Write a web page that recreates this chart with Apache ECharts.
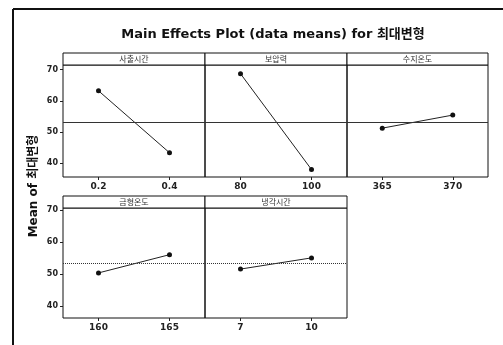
<!DOCTYPE html>
<html>
<head>
<meta charset="utf-8">
<script src="https://cdn.jsdelivr.net/npm/echarts@6/dist/echarts.min.js"></script>
<style>
  html, body { margin: 0; padding: 0; background: #fff; }
  #chart { width: 503px; height: 345px; }
</style>
</head>
<body>
<div id="chart"></div>
<script>
// Factors, their two levels and the mean response at each level
const factorNames = ['사출시간', '보압력', '수지온도', '금형온도', '냉각시간'];
const levelLabels = [['0.2', '0.4'], ['80', '100'], ['365', '370'], ['160', '165'], ['7', '10']];
const levelMeans = [[63.2, 43.3], [68.7, 37.9], [51.2, 55.4], [50.3, 56.0], [51.5, 55.0]];
const grandMean = 53.2;
const yTickValues = [40, 50, 60, 70];

const chartTitle = 'Main Effects Plot (data means) for 최대변형';
const yAxisTitle = 'Mean of 최대변형';

// Panel layout: [left, top, width, height] of each plotting area
const panels = [
  [63, 65, 142, 112], [205, 65, 142, 112], [347, 65, 141, 112],
  [63, 208, 142, 110], [205, 208, 142, 110]
];
const rowRange = [[35.5, 71.5], [36.2, 70.6]];
const stripH = 12;
const tickFont = 'DejaVu Sans';
const cjkFont = 'Noto Sans CJK KR';

const grids = [], xAxes = [], yAxes = [], series = [], graphics = [];

panels.forEach((p, i) => {
  const row = i < 3 ? 0 : 1;
  const firstCol = i === 0 || i === 3;
  grids.push({
    left: p[0], top: p[1], width: p[2], height: p[3],
    show: true, borderColor: '#111', borderWidth: 1, backgroundColor: 'transparent'
  });
  xAxes.push({
    type: 'category', gridIndex: i, data: levelLabels[i], boundaryGap: true,
    axisLine: { show: false },
    axisTick: { show: true, alignWithLabel: true, length: 3, lineStyle: { color: '#222' } },
    axisLabel: { fontFamily: tickFont, fontSize: 9, fontWeight: 'bold', color: '#222', margin: 5 },
    splitLine: { show: false }
  });
  yAxes.push({
    type: 'value', gridIndex: i, min: rowRange[row][0], max: rowRange[row][1],
    axisLine: { show: false },
    axisTick: { show: firstCol, length: 3, customValues: yTickValues, lineStyle: { color: '#222' } },
    axisLabel: { show: firstCol, customValues: yTickValues, fontFamily: tickFont, fontSize: 8,
      fontWeight: 'bold', color: '#222', margin: 5 },
    splitLine: { show: false }
  });
  series.push({
    type: 'line', xAxisIndex: i, yAxisIndex: i,
    data: levelMeans[i],
    symbol: 'circle', symbolSize: 5,
    itemStyle: { color: '#111' },
    lineStyle: { color: '#222', width: 1 },
    silent: true, animation: false,
    markLine: {
      silent: true, symbol: 'none', label: { show: false },
      lineStyle: { color: '#333', width: 1, type: row === 0 ? 'solid' : 'dotted' },
      data: [{ yAxis: grandMean }]
    }
  });
  // factor name strip above each panel
  graphics.push({
    type: 'rect', shape: { x: p[0], y: p[1] - stripH, width: p[2], height: stripH },
    style: { fill: '#fff', stroke: '#111', lineWidth: 1 }
  });
  graphics.push({
    type: 'text', x: p[0] + p[2] / 2, y: p[1] - stripH / 2,
    style: { text: factorNames[i], fontFamily: cjkFont, fontSize: 8, fill: '#333',
      align: 'center', verticalAlign: 'middle' }
  });
});

// outer frame
graphics.push({ type: 'line', shape: { x1: 13, y1: 9, x2: 503, y2: 9 }, style: { stroke: '#111', lineWidth: 2 } });
graphics.push({ type: 'line', shape: { x1: 13, y1: 9, x2: 13, y2: 345 }, style: { stroke: '#111', lineWidth: 2 } });

// chart title
graphics.push({
  type: 'text', x: 273, y: 35,
  style: { text: chartTitle, fontFamily: 'DejaVu Sans, ' + cjkFont, fontSize: 13, fontWeight: 'bold',
    fill: '#111', align: 'center', verticalAlign: 'middle' }
});
// shared y-axis title
graphics.push({
  type: 'text', x: 34, y: 186, rotation: Math.PI / 2,
  style: { text: yAxisTitle, fontFamily: 'DejaVu Sans, ' + cjkFont, fontSize: 12, fontWeight: 'bold',
    fill: '#111', align: 'center', verticalAlign: 'middle' }
});

const chart = echarts.init(document.getElementById('chart'), null, { renderer: 'canvas' });
chart.setOption({
  backgroundColor: '#fff',
  animation: false,
  grid: grids,
  xAxis: xAxes,
  yAxis: yAxes,
  series: series,
  graphic: graphics
});
</script>
</body>
</html>
